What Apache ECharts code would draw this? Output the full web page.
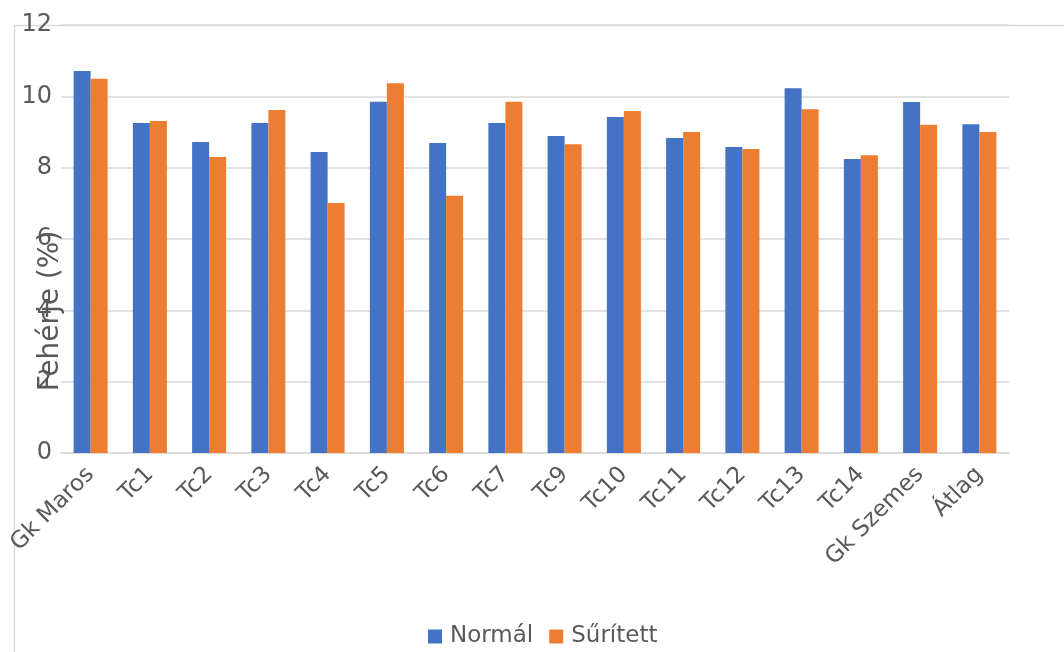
<!DOCTYPE html>
<html>
<head>
<meta charset="utf-8">
<script src="https://cdn.jsdelivr.net/npm/echarts@6/dist/echarts.min.js"></script>
<style>html,body{margin:0;padding:0;background:#fff;}#c{width:1064px;height:652px;}</style>
</head>
<body>
<div id="c"></div>
<script>
const categories = ['Gk Maros','Tc1','Tc2','Tc3','Tc4','Tc5','Tc6','Tc7','Tc9','Tc10','Tc11','Tc12','Tc13','Tc14','Gk Szemes','Átlag'];
const normal =   [10.71, 9.25, 8.72, 9.25, 8.44, 9.85, 8.69, 9.25, 8.89, 9.42, 8.83, 8.58, 10.23, 8.24, 9.84, 9.22];
const suritett = [10.49, 9.31, 8.30, 9.62, 7.01, 10.37, 7.21, 9.85, 8.66, 9.59, 9.00, 8.52, 9.64, 8.35, 9.20, 9.00];
const yTicks = [0, 2, 4, 6, 8, 10, 12];
const seriesNames = ['Normál', 'Sűrített'];

const font = 'DejaVu Sans';
const txt = '#595959';
const chart = echarts.init(document.getElementById('c'), null, {renderer: 'canvas'});
chart.setOption({
  animation: false,
  backgroundColor: '#fff',
  textStyle: {fontFamily: font},
  graphic: [{
    type: 'rect', z: -1, silent: true,
    shape: {x: 14.5, y: 25.5, width: 1200, height: 800},
    style: {fill: 'none', stroke: '#d9d9d9', lineWidth: 1.5}
  }],
  grid: {left: 61, right: 55, top: 25, bottom: 199, containLabel: false, outerBoundsMode: 'none'},
  legend: {
    data: seriesNames, left: 428, top: 625, padding: 0,
    itemWidth: 14, itemHeight: 14, itemGap: 16,
    icon: 'rect',
    textStyle: {fontFamily: font, fontSize: 23, color: txt, padding: [0,0,0,3]}
  },
  xAxis: {
    type: 'category', data: categories,
    axisLine: {lineStyle: {color: '#d9d9d9', width: 1.5}},
    axisTick: {show: false},
    axisLabel: {rotate: 45, margin: 18, fontFamily: font, fontSize: 23, color: txt, interval: 0, hideOverlap: false}
  },
  yAxis: {
    type: 'value', min: yTicks[0], max: yTicks[yTicks.length-1], interval: 2,
    name: 'Fehérje (%)', nameLocation: 'middle', nameGap: -4, nameMoveOverlap: false,
    nameTextStyle: {fontFamily: font, fontSize: 28, color: txt, padding: [0, 144, 0, 0]},
    axisLine: {show: false}, axisTick: {show: false},
    splitLine: {lineStyle: {color: '#d9d9d9', width: 1.5}},
    axisLabel: {margin: 9, fontFamily: font, fontSize: 24, color: txt}
  },
  series: [
    {name: seriesNames[0], type: 'bar', data: normal, barWidth: '28.7%', barGap: '0%', itemStyle: {color: '#4472C4'}},
    {name: seriesNames[1], type: 'bar', data: suritett, barWidth: '28.7%', barGap: '0%', itemStyle: {color: '#ED7D31'}}
  ]
});
</script>
</body>
</html>
